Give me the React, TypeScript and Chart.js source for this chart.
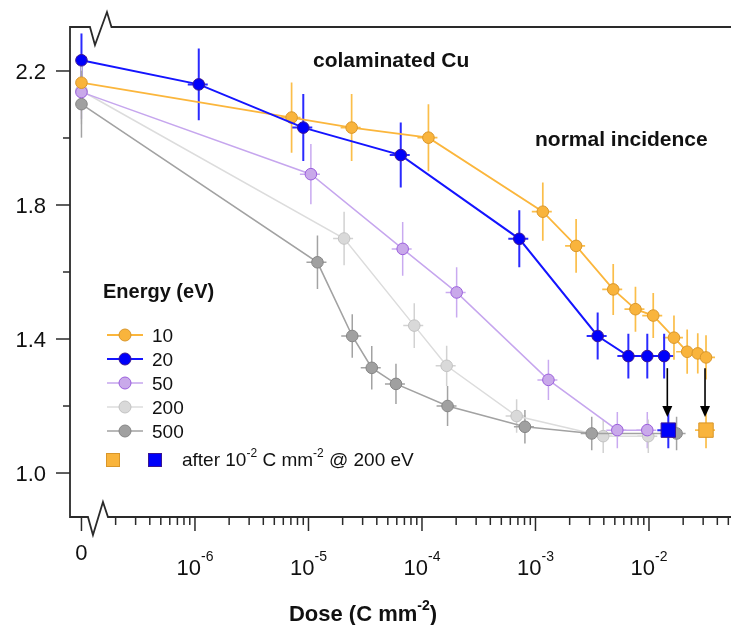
import React, { useEffect, useRef } from 'react';
import { Chart, registerables } from 'chart.js';

Chart.register(...registerables);

// ---------- data (dose in C mm^-2, 0 = undosed) ----------
const dose10 = [0, 7.1e-6, 2.4e-5, 1.14e-4, 1.16e-3, 2.28e-3, 4.84e-3, 7.6e-3, 1.09e-2, 1.66e-2, 2.17e-2, 2.69e-2, 3.18e-2];
const ratio10 = [2.165, 2.061, 2.031, 2.001, 1.78, 1.678, 1.548, 1.489, 1.47, 1.404, 1.362, 1.357, 1.345];
const err10 = [0.08, 0.105, 0.1, 0.1, 0.087, 0.08, 0.076, 0.067, 0.067, 0.066, 0.066, 0.06, 0.066];

const dose20 = [0, 1.08e-6, 9.0e-6, 6.5e-5, 7.2e-4, 3.53e-3, 6.58e-3, 9.66e-3, 1.36e-2];
const ratio20 = [2.232, 2.16, 2.031, 1.949, 1.699, 1.409, 1.349, 1.349, 1.349];
const err20 = [0.08, 0.107, 0.1, 0.097, 0.085, 0.07, 0.067, 0.067, 0.067];

const dose50 = [0, 1.05e-5, 6.76e-5, 2.02e-4, 1.3e-3, 5.26e-3, 9.66e-3];
const ratio50 = [2.137, 1.892, 1.669, 1.539, 1.278, 1.128, 1.128];
const err50 = [0.08, 0.09, 0.08, 0.075, 0.06, 0.054, 0.054];

const dose200 = [0, 2.06e-5, 8.55e-5, 1.65e-4, 6.82e-4, 3.95e-3, 9.86e-3];
const ratio200 = [2.141, 1.7, 1.44, 1.32, 1.17, 1.11, 1.11];
const err200 = [0.1, 0.08, 0.067, 0.06, 0.05, 0.05, 0.05];

const dose500 = [0, 1.2e-5, 2.43e-5, 3.61e-5, 5.9e-5, 1.68e-4, 8.07e-4, 3.13e-3, 1.75e-2];
const ratio500 = [2.101, 1.629, 1.409, 1.314, 1.266, 1.2, 1.138, 1.118, 1.118];
const err500 = [0.1, 0.08, 0.065, 0.065, 0.06, 0.06, 0.05, 0.05, 0.05];

// after 1e-2 C mm^-2 @ 200 eV (orange = 10 eV, blue = 20 eV)
const afterDose = [3.18e-2, 1.48e-2];
const afterRatio = [1.128, 1.128];
const afterErr = [0.054, 0.054];
const arrowFrom = [1.313, 1.313];
const arrowTo = [1.167, 1.167];

const energyLabels = ['10', '20', '50', '200', '500'];
const yMajorTicks = [1.0, 1.4, 1.8, 2.2];
const yMinorTicks = [1.2, 1.6, 2.0];
const xDecades = [-6, -5, -4, -3, -2];

const X_REL_ERR = 0.2;
const ZERO_AT = 1e-7; // where dose 0 sits on the broken log axis
const X_MIN = Math.pow(10, -7.101);
const X_MAX = Math.pow(10, -1.2775);
const Y_MIN = 0.8687;
const Y_MAX = 2.3313;

const FONT = '"Liberation Sans", Arial, Helvetica, sans-serif';

const styles = [
  { line: '#FBB63C', fill: '#F9B43C', edge: '#D9962A', err: '#FBBE4A', lw: 1.8, ew: 1.7 },
  { line: '#1414FF', fill: '#0000FA', edge: '#3A1690', err: '#2A2AFF', lw: 2, ew: 2 },
  { line: '#C6A6EE', fill: '#C9A9EA', edge: '#9A5EDC', err: '#C9AAF0', lw: 1.5, ew: 1.5 },
  { line: '#DCDCDC', fill: '#D9D9D9', edge: '#C2C2C2', err: '#D2D2D2', lw: 1.5, ew: 1.5 },
  { line: '#A2A2A2', fill: '#A0A0A0', edge: '#858585', err: '#A3A3A3', lw: 1.6, ew: 1.5 },
];

const doses = [dose10, dose20, dose50, dose200, dose500];
const ratios = [ratio10, ratio20, ratio50, ratio200, ratio500];
const errs = [err10, err20, err50, err200, err500];
const drawOrder = [2, 1, 3, 5, 4]; // lower = on top

const pos = (d: number) => (d === 0 ? ZERO_AT : d);

type Part = { t: string; size: number; bold?: boolean; dy?: number };
function drawRich(ctx: CanvasRenderingContext2D, parts: Part[], x: number, y: number, align: 'left' | 'center') {
  ctx.textAlign = 'left';
  ctx.textBaseline = 'alphabetic';
  const widths = parts.map((p) => {
    ctx.font = `${p.bold ? 'bold ' : ''}${p.size}px ${FONT}`;
    return ctx.measureText(p.t).width;
  });
  const total = widths.reduce((a, b) => a + b, 0);
  let cx = align === 'center' ? x - total / 2 : x;
  parts.forEach((p, i) => {
    ctx.font = `${p.bold ? 'bold ' : ''}${p.size}px ${FONT}`;
    ctx.fillText(p.t, cx, y + (p.dy || 0));
    cx += widths[i];
  });
}

const errorBars = {
  id: 'errorBars',
  beforeDatasetsDraw(chart: any) {
    const ctx = chart.ctx as CanvasRenderingContext2D;
    const xs = chart.scales.x;
    const ys = chart.scales.y;
    ctx.save();
    chart.data.datasets.forEach((ds: any) => {
      if (!ds.errY) return;
      ctx.strokeStyle = ds.errColor;
      ctx.lineWidth = ds.errWidth;
      ds.data.forEach((p: any, j: number) => {
        const px = xs.getPixelForValue(p.x);
        const py = ys.getPixelForValue(p.y);
        ctx.beginPath();
        ctx.moveTo(px, ys.getPixelForValue(p.y - ds.errY[j]));
        ctx.lineTo(px, ys.getPixelForValue(p.y + ds.errY[j]));
        if (p.x !== ZERO_AT) {
          ctx.moveTo(xs.getPixelForValue(p.x * (1 - X_REL_ERR)), py);
          ctx.lineTo(xs.getPixelForValue(p.x * (1 + X_REL_ERR)), py);
        }
        ctx.stroke();
      });
    });
    ctx.restore();
  },
};

const decorations = {
  id: 'decorations',
  afterDraw(chart: any) {
    const ctx = chart.ctx as CanvasRenderingContext2D;
    const xs = chart.scales.x;
    const ys = chart.scales.y;
    const { left, right, top, bottom } = chart.chartArea;
    const zx = xs.getPixelForValue(ZERO_AT);
    ctx.save();

    // arrows
    ctx.strokeStyle = '#000';
    ctx.fillStyle = '#000';
    ctx.lineWidth = 1.6;
    afterDose.forEach((d, i) => {
      const ax = xs.getPixelForValue(d) - 1;
      const y0 = ys.getPixelForValue(arrowFrom[i]);
      const y1 = ys.getPixelForValue(arrowTo[i]);
      ctx.beginPath();
      ctx.moveTo(ax, y0);
      ctx.lineTo(ax, y1 - 8);
      ctx.stroke();
      ctx.beginPath();
      ctx.moveTo(ax - 5, y1 - 11);
      ctx.lineTo(ax + 5, y1 - 11);
      ctx.lineTo(ax, y1);
      ctx.closePath();
      ctx.fill();
    });

    // frame with axis breaks
    ctx.strokeStyle = '#2a2a2a';
    ctx.lineWidth = 1.8;
    ctx.lineJoin = 'miter';
    ctx.beginPath();
    ctx.moveTo(right + 2, top);
    ctx.lineTo(zx + 30, top);
    ctx.lineTo(zx + 25.5, top - 15);
    ctx.lineTo(zx + 13.5, top + 18);
    ctx.lineTo(zx + 8.5, top);
    ctx.lineTo(left, top);
    ctx.lineTo(left, bottom);
    ctx.lineTo(zx + 6.5, bottom);
    ctx.lineTo(zx + 11.5, bottom + 18);
    ctx.lineTo(zx + 21.5, bottom - 15);
    ctx.lineTo(zx + 26.5, bottom);
    ctx.lineTo(right + 2, bottom);
    ctx.stroke();

    // y ticks
    ctx.lineWidth = 1.5;
    ctx.fillStyle = '#111';
    yMajorTicks.forEach((v) => {
      const py = ys.getPixelForValue(v);
      ctx.beginPath();
      ctx.moveTo(left, py);
      ctx.lineTo(left - 14, py);
      ctx.stroke();
      ctx.font = `22px ${FONT}`;
      ctx.textAlign = 'right';
      ctx.textBaseline = 'alphabetic';
      ctx.fillText(v.toFixed(1), left - 24, py + 8);
    });
    yMinorTicks.forEach((v) => {
      const py = ys.getPixelForValue(v);
      ctx.beginPath();
      ctx.moveTo(left, py);
      ctx.lineTo(left - 7, py);
      ctx.stroke();
    });

    // x ticks
    ctx.beginPath();
    ctx.moveTo(zx, bottom);
    ctx.lineTo(zx, bottom + 14);
    ctx.stroke();
    ctx.font = `22px ${FONT}`;
    ctx.textAlign = 'center';
    ctx.fillText('0', zx, bottom + 43);
    for (let e = -7; e <= -1; e++) {
      for (let k = 1; k <= 9; k++) {
        const v = k * Math.pow(10, e);
        if (v <= ZERO_AT || v > X_MAX) continue;
        const px = xs.getPixelForValue(v);
        const major = k === 1;
        ctx.beginPath();
        ctx.moveTo(px, bottom);
        ctx.lineTo(px, bottom + (major ? 14 : 8));
        ctx.stroke();
      }
    }
    xDecades.forEach((e) => {
      const px = xs.getPixelForValue(Math.pow(10, e));
      drawRich(ctx, [
        { t: '10', size: 22 },
        { t: String(e), size: 14, dy: -14 },
      ], px, bottom + 58, 'center');
    });

    // x title
    drawRich(ctx, [
      { t: 'Dose (C mm', size: 22, bold: true },
      { t: '-2', size: 14, bold: true, dy: -11 },
      { t: ')', size: 22, bold: true },
    ], 363, 621, 'center');

    // annotations
    ctx.textAlign = 'left';
    ctx.font = `bold 21px ${FONT}`;
    ctx.fillText('colaminated Cu', 313, 67);
    ctx.fillText('normal incidence', 535, 146);
    ctx.font = `bold 20px ${FONT}`;
    ctx.fillText('Energy (eV)', 103, 298);

    // legend
    energyLabels.forEach((lab, i) => {
      const s = styles[i];
      const ly = 335 + i * 24;
      ctx.strokeStyle = s.line;
      ctx.lineWidth = s.lw;
      ctx.beginPath();
      ctx.moveTo(107, ly);
      ctx.lineTo(143, ly);
      ctx.stroke();
      ctx.beginPath();
      ctx.arc(125, ly, 6, 0, Math.PI * 2);
      ctx.fillStyle = s.fill;
      ctx.fill();
      ctx.strokeStyle = s.edge;
      ctx.lineWidth = 1;
      ctx.stroke();
      ctx.fillStyle = '#111';
      ctx.font = `19px ${FONT}`;
      ctx.textAlign = 'left';
      ctx.fillText(lab, 152, ly + 7);
    });
    const sqY = 460;
    [[113, 0], [155, 1]].forEach(([cx, si]) => {
      const s = styles[si];
      ctx.fillStyle = s.fill;
      ctx.fillRect(cx - 6.5, sqY - 6.5, 13, 13);
      ctx.strokeStyle = s.edge;
      ctx.lineWidth = 1;
      ctx.strokeRect(cx - 6.5, sqY - 6.5, 13, 13);
    });
    ctx.fillStyle = '#111';
    drawRich(ctx, [
      { t: 'after 10', size: 19 },
      { t: '-2', size: 12, dy: -9 },
      { t: ' C mm', size: 19 },
      { t: '-2', size: 12, dy: -9 },
      { t: ' @ 200 eV', size: 19 },
    ], 182, 466, 'left');

    ctx.restore();
  },
};

export default function App() {
  const ref = useRef<HTMLCanvasElement | null>(null);

  useEffect(() => {
    if (!ref.current) return;
    const datasets: any[] = energyLabels.map((lab, i) => {
      const s = styles[i];
      return {
        label: `${lab} eV`,
        data: doses[i].map((d, j) => ({ x: pos(d), y: ratios[i][j] })),
        errY: errs[i],
        errColor: s.err,
        errWidth: s.ew,
        borderColor: s.line,
        borderWidth: s.lw,
        pointBackgroundColor: s.fill,
        pointBorderColor: s.edge,
        pointBorderWidth: 1,
        pointRadius: 5.8,
        pointStyle: 'circle',
        tension: 0,
        fill: false,
        clip: false,
        order: drawOrder[i],
      };
    });
    afterDose.forEach((d, i) => {
      const s = styles[i];
      datasets.push({
        label: `after ${energyLabels[i]}`,
        data: [{ x: d, y: afterRatio[i] }],
        errY: [afterErr[i]],
        errColor: s.err,
        errWidth: s.ew,
        showLine: false,
        pointStyle: 'rect',
        pointRadius: 10.2,
        pointBackgroundColor: s.fill,
        pointBorderColor: s.edge,
        pointBorderWidth: 1,
        clip: false,
        order: 0,
      });
    });

    const chart = new Chart(ref.current, {
      type: 'line',
      data: { datasets },
      options: {
        animation: false,
        responsive: false,
        devicePixelRatio: 1,
        layout: { autoPadding: false, padding: { left: 70, top: 27, right: 0, bottom: 108 } },
        plugins: { legend: { display: false }, tooltip: { enabled: false } },
        scales: {
          x: { type: 'logarithmic', display: false, bounds: 'data', min: X_MIN, max: X_MAX },
          y: { type: 'linear', display: false, bounds: 'data', min: Y_MIN, max: Y_MAX },
        },
      },
      plugins: [errorBars, decorations],
    } as any);
    return () => chart.destroy();
  }, []);

  return (
    <div style={{ position: 'absolute', left: 0, top: 0, width: 731, height: 625, background: '#fff' }}>
      <canvas ref={ref} width={731} height={625} style={{ display: 'block', width: 731, height: 625 }} />
    </div>
  );
}
